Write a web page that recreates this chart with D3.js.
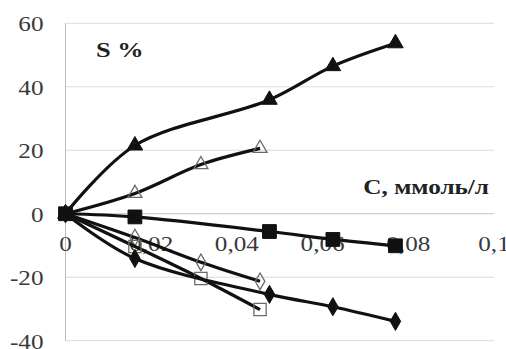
<!DOCTYPE html>
<html>
<head>
<meta charset="utf-8">
<script src="https://cdn.jsdelivr.net/npm/d3@7"></script>
<style>
  html, body { margin: 0; padding: 0; background: #fff; }
  svg { display: block; }
  text { font-family: "Liberation Serif", "Times New Roman", serif; fill: #3a3a3a; }
</style>
</head>
<body>
<svg id="chart" width="506" height="349"></svg>
<script>
// Concentration, mmol/l
const cLong = [0, 0.0162, 0.0476, 0.0624, 0.0770];
const cShort = [0, 0.0162, 0.0316, 0.0454];

// S, % for each series
const sFilledTriangle = [0, 21.5, 35.9, 46.5, 53.7];
const sOpenTriangle   = [0, 6.4, 15.5, 20.6];
const sFilledSquare   = [0, -1.0, -5.6, -8.1, -10.1];
const sOpenDiamond    = [0, -7.5, -15.3, -21.3];
const sOpenSquare     = [0, -10.3, -20.4, -30.2];
const sFilledDiamond  = [0, -14.1, -25.4, -29.3, -33.9];

const xTicks = [0, 0.02, 0.04, 0.06, 0.08, 0.1];
const xTickLabels = ["0", "0,02", "0,04", "0,06", "0,08", "0,1"];
const yTicks = [-40, -20, 0, 20, 40, 60];

const series = [
  { c: cShort, s: sOpenTriangle, symbol: d3.symbolTriangle, filled: false, size: 85 },
  { c: cShort, s: sOpenDiamond, symbol: d3.symbolDiamond, filled: false, size: 80 },
  { c: cShort, s: sOpenSquare, symbol: d3.symbolSquare, filled: false, size: 150 },
  { c: cLong, s: sFilledTriangle, symbol: d3.symbolTriangle, filled: true, size: 105 },
  { c: cLong, s: sFilledSquare, symbol: d3.symbolSquare, filled: true, size: 190 },
  { c: cLong, s: sFilledDiamond, symbol: d3.symbolDiamond, filled: true, size: 95 }
];

const svg = d3.select("#chart");
const x = d3.scaleLinear().domain([0, 0.1]).range([65.5, 494]);
const y = d3.scaleLinear().domain([-40, 60]).range([340.7, 23.3]);
const SX = 1.2; // horizontal stretch of the serif lettering

// horizontal gridlines
svg.append("g").selectAll("line").data(yTicks).join("line")
  .attr("x1", x(0)).attr("x2", x(0.1))
  .attr("y1", d => y(d)).attr("y2", d => y(d))
  .attr("stroke", d => d === 0 ? "#c4c4c4" : "#dcdcdc")
  .attr("stroke-width", 1);

// vertical axis
const yAxis = svg.append("g")
  .attr("transform", `translate(${x(0)},0)`)
  .call(d3.axisLeft(y).tickValues(yTicks).tickSize(0).tickPadding(22).tickFormat(d3.format("d")));
yAxis.select(".domain").attr("stroke", "#bdbdbd").attr("d", `M0,${y(60)}V${y(-40)}`);
yAxis.selectAll("text")
  .style("font-size", "21px")
  .attr("x", -22 / SX)
  .attr("dy", "0.36em")
  .attr("transform", `scale(${SX},1)`)
  .text(d => d < 0 ? "-" + Math.abs(d) : d);

// horizontal axis labels
const xAxis = svg.append("g")
  .attr("transform", `translate(0,${y(0)})`)
  .call(d3.axisBottom(x).tickValues(xTicks).tickSize(0).tickPadding(0)
    .tickFormat((d, i) => xTickLabels[i]));
xAxis.select(".domain").remove();
xAxis.selectAll("text")
  .style("font-size", "21px")
  .attr("y", 37)
  .attr("dy", 0)
  .attr("transform", `scale(${SX},1)`);
xAxis.selectAll(".tick").each(function (d) {
  d3.select(this).attr("transform", `translate(${x(d)},0)`);
});

// series lines and markers
const line = d3.line()
  .x(d => x(d[0]))
  .y(d => y(d[1]))
  .curve(d3.curveCatmullRom.alpha(0.5));

const plot = svg.append("g");
series.forEach(sr => {
  const pts = sr.c.map((c, i) => [c, sr.s[i]]);
  const g = plot.append("g");
  g.append("path")
    .attr("d", line(pts))
    .attr("fill", "none")
    .attr("stroke", "#111")
    .attr("stroke-width", 3.2)
    .attr("stroke-linejoin", "round");
  const sym = d3.symbol().type(sr.symbol).size(sr.size);
  g.selectAll("path.m").data(pts).join("path")
    .attr("class", "m")
    .attr("d", sym)
    .attr("transform", d => `translate(${x(d[0])},${y(d[1])})`)
    .attr("fill", sr.filled ? "#111" : "none")
    .attr("stroke", sr.filled ? "#111" : "#6a6a6a")
    .attr("stroke-width", sr.filled ? 1 : 1.3);
});

// axis titles
svg.append("text")
  .attr("x", 96 / SX).attr("y", 57)
  .attr("transform", `scale(${SX},1)`)
  .style("font-size", "22px").style("font-weight", "bold").style("fill", "#222")
  .text("S %");

svg.append("text")
  .attr("x", 489 / SX).attr("y", 194)
  .attr("text-anchor", "end")
  .attr("transform", `scale(${SX},1)`)
  .style("font-size", "21px").style("font-weight", "bold").style("fill", "#222")
  .text("C, ммоль/л");
</script>
</body>
</html>
